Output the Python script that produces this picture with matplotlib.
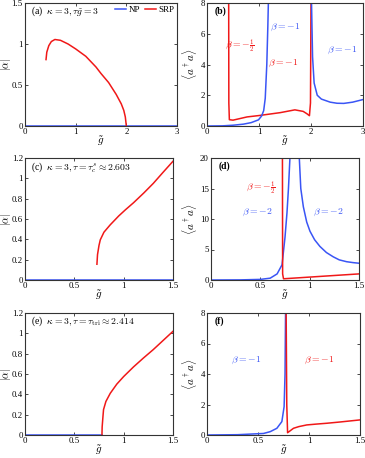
import matplotlib.pyplot as plt

plt.rcParams['font.family'] = ['Liberation Serif', 'DejaVu Serif']
plt.rcParams['mathtext.fontset'] = 'cm'
plt.rcParams['font.size'] = 6.5

BLUE = '#3a55f5'
RED = '#f01818'

# (a) |alpha| vs g, kappa=3, tau*g=3
a_np_g = [0, 3]
a_np_y = [0, 0]
a_srp_g = [0.415, 0.43, 0.47, 0.52, 0.59, 0.7, 0.85, 1.0, 1.2, 1.4, 1.5, 1.65, 1.8, 1.9, 1.95, 1.98, 2.0]
a_srp_y = [0.81, 0.9, 0.98, 1.03, 1.055, 1.045, 1.0, 0.94, 0.85, 0.72, 0.64, 0.53, 0.385, 0.27, 0.19, 0.11, 0.0]

# (b) <a+a> vs g
b_red_g = [0.417, 0.42, 0.43, 0.5, 0.77, 1.0, 1.41, 1.69, 1.85, 1.92, 1.97, 1.99, 2.0]
b_red_y = [8.0, 1.5, 0.41, 0.38, 0.59, 0.68, 0.87, 1.05, 0.95, 0.8, 0.67, 1.5, 8.0]
b_blue1_g = [0, 0.3, 0.5, 0.7, 0.85, 0.99, 1.05, 1.09, 1.12, 1.15, 1.17, 1.18]
b_blue1_y = [0, 0.01, 0.05, 0.12, 0.22, 0.4, 0.65, 1.0, 1.8, 4.0, 6.5, 8.0]
b_blue2_g = [2.01, 2.03, 2.06, 2.12, 2.2, 2.37, 2.5, 2.63, 2.8, 3.0]
b_blue2_y = [8.0, 4.5, 2.8, 2.0, 1.75, 1.55, 1.48, 1.47, 1.55, 1.72]

# (c) |alpha|, tau = tau_c^s
c_np_g = [0, 1.5]
c_np_y = [0, 0]
c_srp_g = [0.729, 0.735, 0.75, 0.763, 0.8, 0.864, 0.95, 1.017, 1.1, 1.203, 1.3, 1.4, 1.5]
c_srp_y = [0.155, 0.25, 0.34, 0.395, 0.47, 0.543, 0.63, 0.69, 0.76, 0.855, 0.95, 1.06, 1.168]

# (d) <a+a>, tau = tau_c^s
d_red_g = [0.724, 0.726, 0.735, 1.5]
d_red_y = [20.0, 1.0, 0.2, 1.0]
d_blue1_g = [0, 0.3, 0.5, 0.6, 0.67, 0.72, 0.75, 0.77, 0.785, 0.8]
d_blue1_y = [0, 0.02, 0.1, 0.3, 1.0, 2.5, 7.0, 11.0, 15.0, 20.0]
d_blue2_g = [0.895, 0.91, 0.936, 0.97, 1.003, 1.05, 1.104, 1.17, 1.239, 1.3, 1.374, 1.44, 1.5]
d_blue2_y = [20.0, 15.0, 12.0, 9.5, 8.0, 6.6, 5.5, 4.5, 3.8, 3.3, 3.0, 2.85, 2.75]

# (e) |alpha|, tau = tau_tri
e_np_g = [0, 0.78]
e_np_y = [0, 0]
e_srp_g = [0.78, 0.782, 0.79, 0.796, 0.82, 0.864, 0.93, 1.0, 1.1, 1.2, 1.3, 1.4, 1.5]
e_srp_y = [0.0, 0.08, 0.18, 0.25, 0.33, 0.41, 0.5, 0.575, 0.67, 0.757, 0.84, 0.93, 1.02]

# (f) <a+a>, tau = tau_tri
f_blue_g = [0, 0.3, 0.554, 0.62, 0.685, 0.734, 0.756, 0.765, 0.77]
f_blue_y = [0, 0.02, 0.1, 0.22, 0.44, 0.88, 1.86, 4.0, 8.0]
f_red_g = [0.776, 0.782, 0.79, 0.81, 0.848, 0.9, 0.978, 1.08, 1.174, 1.3, 1.4, 1.5]
f_red_y = [8.0, 2.0, 0.15, 0.25, 0.44, 0.55, 0.66, 0.72, 0.77, 0.85, 0.92, 0.99]

W, H = 365, 458
lw = 1.1
gl = r'$\tilde{g}$'
alab = r'$|\alpha|$'
nlab = r'$\langle a^\dagger a\rangle$'


def make_ax(fig, l, r, t, b, ylab, ylab_x, ylab_fs=8):
    ax = fig.add_axes([l / W, 1 - b / H, (r - l) / W, (b - t) / H])
    ax.tick_params(direction='in', top=True, right=True, length=2, width=0.5, pad=1.5, labelsize=6.3)
    for s in ax.spines.values():
        s.set_linewidth(0.8)
        s.set_color('#333333')
    ax.set_xlabel(gl, fontsize=8)
    ax.set_ylabel(ylab, fontsize=ylab_fs)
    # place labels by pixel, like the reference
    ax.xaxis.set_label_coords(0.5, -8.0 / (b - t))
    ax.yaxis.set_label_coords((ylab_x - l) / (r - l), 0.5)
    return ax


fig = plt.figure(figsize=(3.65, 4.58), dpi=100)

# (a)
ax = make_ax(fig, 25, 177, 3, 126, alab, 13, 7.5)
ax.plot(a_np_g, a_np_y, color=BLUE, lw=lw, label='NP')
ax.plot(a_srp_g, a_srp_y, color=RED, lw=lw, label='SRP')
ax.set_xlim(0, 3)
ax.set_ylim(0, 1.5)
ax.set_xticks([0, 1, 2, 3])
ax.set_yticks([0, 0.5, 1, 1.5])
ax.set_yticklabels(['0', '0.5', '1', '1.5'])
ax.text(0.04, 0.93, r'(a)  $\kappa=3, \tau\tilde{g}=3$', transform=ax.transAxes, fontsize=7, va='center')
ax.legend(loc='upper right', frameon=False, fontsize=6.5, handlelength=1.2, handletextpad=0.3,
          ncol=2, columnspacing=0.5, borderaxespad=0.1, borderpad=0.2)

# (b)
ax = make_ax(fig, 207, 363, 3, 126, nlab, 199)
ax.plot(b_red_g, b_red_y, color=RED, lw=lw)
ax.plot(b_blue1_g, b_blue1_y, color=BLUE, lw=lw)
ax.plot(b_blue2_g, b_blue2_y, color=BLUE, lw=lw)
ax.set_xlim(0, 3)
ax.set_ylim(0, 8)
ax.set_xticks([0, 1, 2, 3])
ax.set_yticks([0, 2, 4, 6, 8])
ax.text(0.05, 0.93, '(b)', transform=ax.transAxes, fontsize=7, va='center', fontweight='bold')
ax.text(0.62, 5.2, r'$\beta=-\frac{1}{2}$', color=RED, fontsize=7, ha='center', va='center')
ax.text(1.47, 4.1, r'$\beta=-1$', color=RED, fontsize=7, ha='center', va='center')
ax.text(1.5, 6.4, r'$\beta=-1$', color=BLUE, fontsize=7, ha='center', va='center')
ax.text(2.6, 4.9, r'$\beta=-1$', color=BLUE, fontsize=7, ha='center', va='center')

# (c)
ax = make_ax(fig, 25, 173, 158, 280, alab, 13, 7.5)
ax.plot(c_np_g, c_np_y, color=BLUE, lw=lw)
ax.plot(c_srp_g, c_srp_y, color=RED, lw=lw)
ax.set_xlim(0, 1.5)
ax.set_ylim(0, 1.2)
ax.set_xticks([0, 0.5, 1, 1.5])
ax.set_xticklabels(['0', '0.5', '1', '1.5'])
ax.set_yticks([0, 0.2, 0.4, 0.6, 0.8, 1, 1.2])
ax.set_yticklabels(['0', '0.2', '0.4', '0.6', '0.8', '1', '1.2'])
ax.text(0.04, 0.93, r'(c)  $\kappa=3, \tau=\tau_c^s\approx 2.603$', transform=ax.transAxes, fontsize=7, va='center')

# (d)
ax = make_ax(fig, 211, 359, 158, 280, nlab, 199)
ax.plot(d_blue1_g, d_blue1_y, color=BLUE, lw=lw)
ax.plot(d_blue2_g, d_blue2_y, color=BLUE, lw=lw)
ax.plot(d_red_g, d_red_y, color=RED, lw=lw)
ax.set_xlim(0, 1.5)
ax.set_ylim(0, 20)
ax.set_xticks([0, 0.5, 1, 1.5])
ax.set_xticklabels(['0', '0.5', '1', '1.5'])
ax.set_yticks([0, 5, 10, 15, 20])
ax.text(0.05, 0.93, '(d)', transform=ax.transAxes, fontsize=7, va='center', fontweight='bold')
ax.text(0.5, 15.0, r'$\beta=-\frac{1}{2}$', color=RED, fontsize=7, ha='center', va='center')
ax.text(0.47, 11.1, r'$\beta=-2$', color=BLUE, fontsize=7, ha='center', va='center')
ax.text(1.19, 11.1, r'$\beta=-2$', color=BLUE, fontsize=7, ha='center', va='center')

# (e)
ax = make_ax(fig, 25, 173, 313, 435, alab, 13, 7.5)
ax.plot(e_np_g, e_np_y, color=BLUE, lw=lw)
ax.plot(e_srp_g, e_srp_y, color=RED, lw=lw)
ax.set_xlim(0, 1.5)
ax.set_ylim(0, 1.2)
ax.set_xticks([0, 0.5, 1, 1.5])
ax.set_xticklabels(['0', '0.5', '1', '1.5'])
ax.set_yticks([0, 0.2, 0.4, 0.6, 0.8, 1, 1.2])
ax.set_yticklabels(['0', '0.2', '0.4', '0.6', '0.8', '1', '1.2'])
ax.text(0.04, 0.93, r'(e)  $\kappa=3, \tau=\tau_{\rm tri}\approx 2.414$', transform=ax.transAxes, fontsize=7, va='center')

# (f)
ax = make_ax(fig, 207, 360, 313, 435, nlab, 199)
ax.plot(f_blue_g, f_blue_y, color=BLUE, lw=lw)
ax.plot(f_red_g, f_red_y, color=RED, lw=lw)
ax.set_xlim(0, 1.5)
ax.set_ylim(0, 8)
ax.set_xticks([0, 0.5, 1, 1.5])
ax.set_xticklabels(['0', '0.5', '1', '1.5'])
ax.set_yticks([0, 2, 4, 6, 8])
ax.text(0.05, 0.93, '(f)', transform=ax.transAxes, fontsize=7, va='center', fontweight='bold')
ax.text(0.38, 4.87, r'$\beta=-1$', color=BLUE, fontsize=7, ha='center', va='center')
ax.text(1.1, 4.87, r'$\beta=-1$', color=RED, fontsize=7, ha='center', va='center')

fig.savefig('out.png', dpi=100)
